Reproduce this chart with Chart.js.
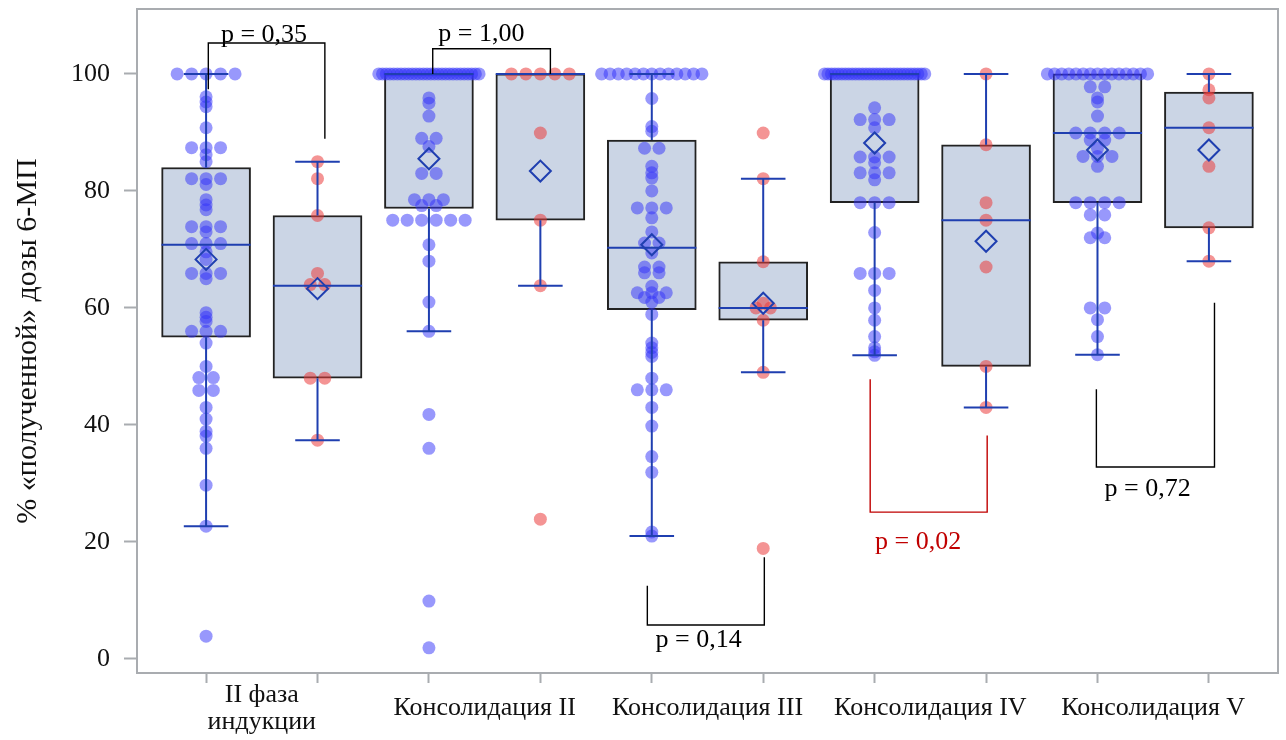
<!DOCTYPE html>
<html>
<head>
<meta charset="utf-8">
<script src="https://cdn.jsdelivr.net/npm/chart.js@4.4.1/dist/chart.umd.min.js"></script>
<style>
  html, body { margin: 0; padding: 0; background: #fff; }
</style>
</head>
<body>
<canvas id="boxChart" width="1286" height="740"></canvas>
<script>
/* ---------- data ---------- */

const groupLabels = [["II фаза", "индукции"], "Консолидация II", "Консолидация III", "Консолидация IV", "Консолидация V"];
const yTickValues = [0, 20, 40, 60, 80, 100];

// boxes 1..10 : odd = blue cohort, even = red cohort
const boxPositions = [1, 2, 3, 4, 5, 6, 7, 8, 9, 10];
const whiskerLow   = [22.7, 37.4, 56, 63.8, 21, 49, 51.9, 43, 52, 68];
const q1Values     = [55, 48, 77, 75, 59.7, 57.9, 78, 50, 78, 73.7];
const medianValues = [70.8, 63.8, 100, 100, 70.3, 60, 100, 75, 89.9, 90.8];
const q3Values     = [84, 75.8, 100, 100, 88.7, 67.9, 100, 87.9, 100, 96.9];
const whiskerHigh  = [100, 85, 100, 100, 100, 82.1, 100, 100, 100, 100];
const meanValues   = [68.3, 63.3, 85.5, 83.4, 70.8, 60.8, 88.2, 71.4, 87, 87];

const inductionBlue = [100, 100, 100, 100, 100, 96.1, 95.2, 94.4, 90.8, 87.4, 87.4, 87.4, 86.2, 85,
  82.1, 82.1, 82.1, 81.1, 78.5, 77.6, 76.8, 73.9, 73.9, 73.9, 73, 71, 71, 71, 69.6, 68.3,
  65.9, 65.9, 65.9, 65, 59.2, 58.4, 57.7, 56, 56, 56, 54, 50, 48.1, 48.1, 45.9, 45.9,
  43, 41, 38.9, 38.1, 36, 29.7, 22.7, 3.9];
const inductionRed = [85, 82.1, 75.8, 65.9, 64, 64, 48, 48, 37.4];

const cons2Blue = [100, 100, 100, 100, 100, 100, 100, 100, 100, 100, 100, 100, 100, 100,
  100, 100, 100, 100, 100, 100, 100, 100, 100, 100, 100, 100, 100, 100,
  95.9, 95, 92.8, 89, 89, 87.6, 83, 83, 78.5, 78.5, 78.5, 77.5, 77.5,
  75, 75, 75, 75, 75, 75, 70.8, 68, 61, 56, 41.8, 36, 9.9, 1.9];
const cons2Red = [100, 100, 100, 100, 100, 89.9, 75, 63.8, 23.9];

const cons3Blue = [100, 100, 100, 100, 100, 100, 100, 100, 100, 100, 100, 100, 100,
  95.8, 91, 90.2, 87.3, 87.3, 84.2, 83.1, 82.2, 80, 77.1, 77.1, 77.1, 75.4, 73, 71.1, 71.1,
  69.4, 67, 67, 66, 66, 63.7, 62.6, 62.6, 62.6, 61.8, 61.8, 61, 58.9, 54, 53.2, 52.4, 51.7,
  48, 46, 46, 46, 43, 39.8, 34.6, 31.9, 21.7, 21];
const cons3Red = [89.9, 82.1, 67.9, 60.8, 60, 60, 57.9, 49, 18.9];

const cons4Blue = [100, 100, 100, 100, 100, 100, 100, 100, 100, 100, 100, 100, 100, 100, 100,
  100, 100, 100, 100, 100, 100, 100, 100, 100, 100, 100, 100, 100, 100, 100,
  94.2, 92.2, 92.2, 92.2, 90.8, 85.8, 85.8, 85.8, 84.8, 83.1, 83.1, 83.1, 81.9, 78, 78, 78,
  72.9, 65.9, 65.9, 65.9, 63, 60, 57.9, 55.1, 53.2, 52.5, 51.9];
const cons4Red = [100, 87.9, 78, 75, 67, 50, 43];

const cons5Blue = [100, 100, 100, 100, 100, 100, 100, 100, 100, 100, 100, 100, 100, 100, 100,
  97.8, 97.8, 95.9, 95.2, 92.8, 89.9, 89.9, 89.9, 89.9, 88.7, 88.7, 87.3, 85.9, 85.9, 85.9,
  84.2, 78, 78, 78, 78, 75.9, 75.9, 72.8, 72, 72, 60, 60, 58, 55.1, 52];
const cons5Red = [100, 97.3, 95.9, 90.8, 84.2, 73.7, 68];

const pointSets = [inductionBlue, inductionRed, cons2Blue, cons2Red, cons3Blue, cons3Red,
  cons4Blue, cons4Red, cons5Blue, cons5Red];

// p-value brackets (x in box units, y in % units)
const pBrackets = [
  { text: "p = 0,35", x1: 1.02, x2: 2.066, bar: 105.3, left: 97.4, right: 88.9, tx: 1.52, ty: 105.5, color: "#000000" },
  { text: "p = 1,00", x1: 3.034, x2: 4.09, bar: 104.3, left: 100, right: 100, tx: 3.47, ty: 105.6, color: "#000000" },
  { text: "p = 0,14", x1: 4.96, x2: 6.01, bar: 5.8, left: 12.5, right: 17.4, tx: 5.42, ty: 2.05, color: "#000000" },
  { text: "p = 0,02", x1: 6.96, x2: 8.01, bar: 25.1, left: 47.8, right: 38.2, tx: 7.39, ty: 18.8, color: "#c00000" },
  { text: "p = 0,72", x1: 8.99, x2: 10.05, bar: 32.8, left: 46.1, right: 60.9, tx: 9.45, ty: 27.8, color: "#000000" }
];

/* ---------- build datasets ---------- */

const NAVY = "#1f3fb0";
const FRAME = "#a9acb0";
const SERIF = '"Liberation Serif", "Times New Roman", serif';
const CAP_HALF = 0.2;
const BOX_HALF = 0.4;

// spread equal values side by side (beeswarm-like)
function swarm(values, center) {
  const counts = {};
  values.forEach(v => { counts[v] = (counts[v] || 0) + 1; });
  const seen = {};
  return values.map(v => {
    const n = counts[v];
    const k = seen[v] || 0;
    seen[v] = k + 1;
    if (n === 1) return { x: center, y: v };
    const width = Math.min((n - 1) * 0.13, 0.9);
    return { x: center - width / 2 + k * width / (n - 1), y: v };
  });
}

const bluePoints = [];
const redPoints = [];
pointSets.forEach((vals, i) => {
  const pts = swarm(vals, boxPositions[i]);
  if (i % 2 === 0) bluePoints.push(...pts); else redPoints.push(...pts);
});

const whiskerPath = [];
boxPositions.forEach((x, i) => {
  if (whiskerHigh[i] > q3Values[i]) {
    whiskerPath.push({ x, y: q3Values[i] }, { x, y: whiskerHigh[i] }, { x, y: null });
    whiskerPath.push({ x: x - CAP_HALF, y: whiskerHigh[i] }, { x: x + CAP_HALF, y: whiskerHigh[i] }, { x, y: null });
  }
  if (whiskerLow[i] < q1Values[i]) {
    whiskerPath.push({ x, y: q1Values[i] }, { x, y: whiskerLow[i] }, { x, y: null });
    whiskerPath.push({ x: x - CAP_HALF, y: whiskerLow[i] }, { x: x + CAP_HALF, y: whiskerLow[i] }, { x, y: null });
  }
  whiskerPath.push({ x: x - BOX_HALF, y: medianValues[i] }, { x: x + BOX_HALF, y: medianValues[i] }, { x, y: null });
});

function bracketPath(color) {
  const path = [];
  pBrackets.filter(b => b.color === color).forEach(b => {
    path.push({ x: b.x1, y: b.left }, { x: b.x1, y: b.bar }, { x: b.x2, y: b.bar }, { x: b.x2, y: b.right }, { x: b.x1, y: null });
  });
  return path;
}

// frame around plot area + p-value texts
const framePlugin = {
  id: "frame",
  beforeDatasetsDraw(chart) {
    const { ctx, chartArea: a } = chart;
    ctx.save();
    ctx.strokeStyle = FRAME;
    ctx.lineWidth = 2;
    ctx.strokeRect(a.left, a.top, a.right - a.left, a.bottom - a.top);
    ctx.restore();
  },
  afterDatasetsDraw(chart) {
    const { ctx, scales } = chart;
    ctx.save();
    ctx.font = "26px " + SERIF;
    ctx.textAlign = "center";
    ctx.textBaseline = "alphabetic";
    pBrackets.forEach(b => {
      ctx.fillStyle = b.color;
      ctx.fillText(b.text, scales.x.getPixelForValue(b.tx), scales.y.getPixelForValue(b.ty));
    });
    ctx.restore();
  }
};

const xTicks = [];
boxPositions.forEach(p => {
  xTicks.push(p);
  if (p % 2 === 1) xTicks.push(p + 0.5);
});

const ctx = document.getElementById("boxChart").getContext("2d");

new Chart(ctx, {
  type: "scatter",
  data: {
    datasets: [
      {
        type: "bar",
        data: boxPositions.map((x, i) => ({ x, y: [q1Values[i], q3Values[i]] })),
        backgroundColor: "#cbd5e5",
        borderColor: "#222222",
        borderWidth: 2,
        borderSkipped: false,
        barThickness: 89,
        order: 6
      },
      {
        data: bluePoints,
        pointRadius: 6.5,
        pointBorderWidth: 0,
        pointBackgroundColor: "rgba(50, 50, 250, 0.5)",
        order: 5
      },
      {
        data: redPoints,
        pointRadius: 6.5,
        pointBorderWidth: 0,
        pointBackgroundColor: "rgba(235, 60, 60, 0.55)",
        order: 4
      },
      {
        data: whiskerPath,
        showLine: true,
        borderColor: NAVY,
        borderWidth: 2,
        pointRadius: 0,
        order: 3
      },
      {
        data: meanValues.map((y, i) => ({ x: boxPositions[i], y })),
        pointStyle: "rectRot",
        pointRadius: 10.5,
        pointBorderWidth: 2,
        pointBorderColor: NAVY,
        pointBackgroundColor: "rgba(0,0,0,0)",
        order: 2
      },
      {
        data: bracketPath("#000000"),
        showLine: true,
        borderColor: "#000000",
        borderWidth: 1.4,
        pointRadius: 0,
        order: 1
      },
      {
        data: bracketPath("#c00000"),
        showLine: true,
        borderColor: "#c00000",
        borderWidth: 1.4,
        pointRadius: 0,
        order: 1
      }
    ]
  },

  options: {
    responsive: false,
    animation: false,
    layout: { autoPadding: false, padding: { top: 9, right: 8, left: 0, bottom: 0 } },

    plugins: {
      legend: { display: false },
      tooltip: { enabled: false }
    },

    scales: {
      x: {
        type: "linear",
        min: 0.38,
        max: 10.62,
        offset: false,
        afterFit: s => { s.height = 67; s.paddingLeft = 0; s.paddingRight = 0; },
        afterBuildTicks: s => { s.ticks = xTicks.map(v => ({ value: v })); },
        border: { display: false },
        grid: {
          offset: false,
          drawOnChartArea: false,
          tickLength: 10,
          tickWidth: 2,
          tickColor: c => (c.tick && c.tick.value % 1 === 0 ? FRAME : "rgba(0,0,0,0)")
        },
        ticks: {
          autoSkip: false,
          maxRotation: 0,
          padding: 12,
          crossAlign: "center",
          color: "#111111",
          font: { family: SERIF, size: 26, lineHeight: 1.04 },
          callback: v => (v % 1 === 0 ? "" : groupLabels[Math.floor(v / 2)])
        }
      },
      y: {
        min: -2.4,
        max: 111.1,
        afterFit: s => { s.width = 137; s.paddingTop = 0; s.paddingBottom = 0; },
        afterBuildTicks: s => { s.ticks = yTickValues.map(v => ({ value: v })); },
        border: { display: false },
        grid: {
          drawOnChartArea: false,
          tickLength: 13,
          tickWidth: 2,
          tickColor: FRAME
        },
        ticks: {
          padding: 14,
          color: "#111111",
          font: { family: SERIF, size: 26 }
        },
        title: {
          display: true,
          text: "% «полученной» дозы 6-МП",
          color: "#111111",
          padding: { top: 10, bottom: 0 },
          font: { family: SERIF, size: 30 }
        }
      }
    }
  },

  plugins: [framePlugin]
});
</script>
</body>
</html>
